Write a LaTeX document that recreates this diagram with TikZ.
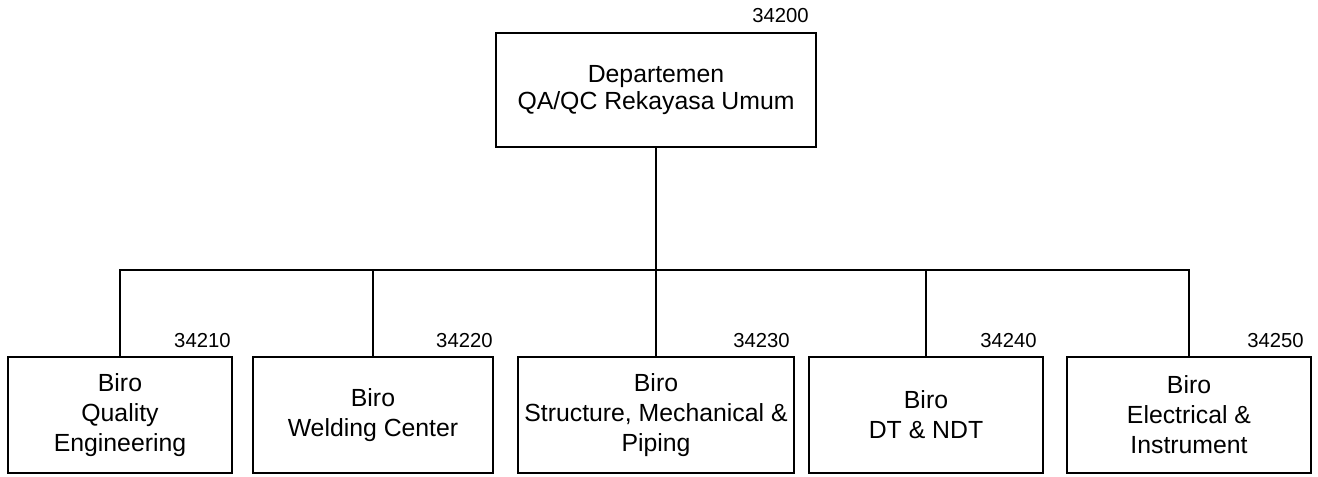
\documentclass[tikz,border=0pt]{standalone}
\usepackage{fontspec}
\setmainfont{Liberation Sans}
\begin{document}
\begin{tikzpicture}[x=0.75pt,y=-0.75pt,
  box/.style={draw=black, line width=1.3pt, rectangle, align=center, inner sep=0pt,
    font=\fontsize{18.6}{22.5}\selectfont},
  code/.style={font=\fontsize{15.2}{18}\selectfont, inner sep=0pt, anchor=base east},
  link/.style={draw=black, line width=1.3pt}]
\useasboundingbox (0,0) rectangle (1318,477);
\node[box, minimum width=240pt, minimum height=85.5pt, font=\fontsize{18.6}{20.5}\selectfont] (top) at (656,90) {Departemen\\QA/QC Rekayasa Umum};
\node[box, minimum width=168pt, minimum height=87pt] (b1) at (120,415) {Biro\\Quality\\Engineering};
\node[box, minimum width=180pt, minimum height=87pt] (b2) at (373,415) {Biro\\Welding Center};
\node[box, minimum width=207pt, minimum height=87pt] (b3) at (656,415) {Biro\\Structure, Mechanical \&\\Piping};
\node[box, minimum width=175.5pt, minimum height=87pt] (b4) at (926,415) {Biro\\DT \& NDT};
\node[box, minimum width=183pt, minimum height=87pt] (b5) at (1189,415) {Biro\\Electrical \&\\Instrument};
\node[code] (ctop) at ([shift={(-8,-10)}]top.north east) {34200};
\node[code] (c1) at ([shift={(-2,-9)}]b1.north east) {34210};
\node[code] (c2) at ([shift={(-1,-9)}]b2.north east) {34220};
\node[code] (c3) at ([shift={(-5,-9)}]b3.north east) {34230};
\node[code] (c4) at ([shift={(-7,-9)}]b4.north east) {34240};
\node[code] (c5) at ([shift={(-8,-9)}]b5.north east) {34250};
\coordinate (bus) at (0,270);
\draw[link] (top.south) -- (top.south |- bus);
\draw[link] (b1.north) -- (b1.north |- bus) -- (b5.north |- bus) -- (b5.north);
\draw[link] (b2.north) -- (b2.north |- bus);
\draw[link] (b3.north) -- (b3.north |- bus);
\draw[link] (b4.north) -- (b4.north |- bus);
\end{tikzpicture}
\end{document}
